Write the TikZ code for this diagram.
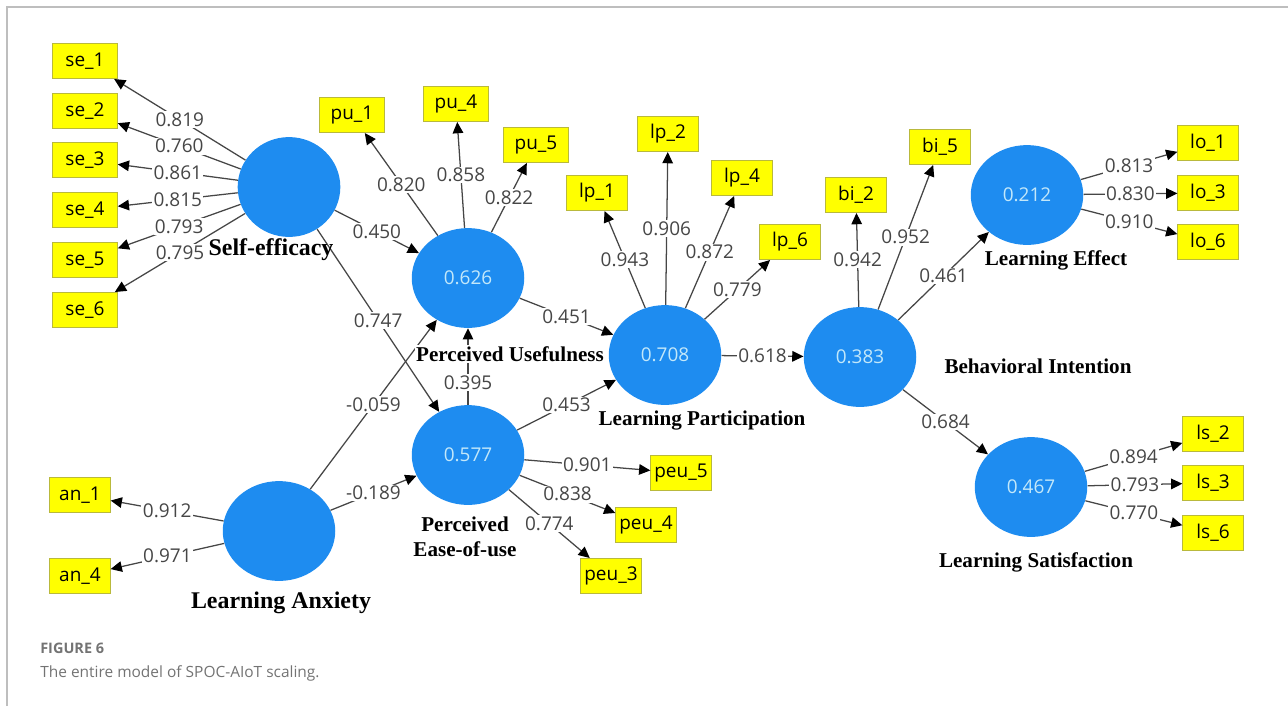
\documentclass[tikz,border=0pt]{standalone}
\usepackage{fontspec}
\setmainfont{Liberation Serif}
\newfontfamily\numfont{Open Sans}
\usepackage{xcolor}
\usetikzlibrary{shapes.geometric,arrows.meta}
\definecolor{lvblue}{RGB}{30,140,240}
\definecolor{lvtext}{RGB}{195,232,250}
\definecolor{indfill}{RGB}{255,255,0}
\definecolor{indedge}{RGB}{185,185,60}
\definecolor{wtgray}{RGB}{70,70,70}
\definecolor{capgray}{RGB}{115,115,115}
\definecolor{framegray}{RGB}{190,190,190}
\newcommand{\numsize}{\numfont\fontsize{13.5}{16}\selectfont}

\begin{document}
\begin{tikzpicture}[x=0.025cm,y=-0.025cm,
  lv/.style={ellipse,fill=lvblue,minimum width=80pt,minimum height=71pt,inner sep=0pt,text=lvtext,font=\numsize},
  ind/.style={draw=indedge,fill=indfill,line width=0.6pt,minimum width=43pt,minimum height=25pt,inner sep=2pt,font=\numsize},
  wt/.style={fill=white,inner sep=1pt,text=wtgray,font=\numsize},
  link/.style={draw=wtgray,line width=0.9pt,-{Triangle[length=8pt,width=7.5pt,color=black]}},
  lvname/.style={font=\bfseries\fontsize{15}{18}\selectfont},
  bigname/.style={font=\bfseries\fontsize{17}{20}\selectfont}]
  \useasboundingbox (0,0) rectangle (1288,706);
  \draw[framegray,line width=0.8pt] (7,706) -- (7,7) -- (1288,7);
  % latent variables
  \node[lv,minimum width=73pt] (SE) at (289,187) {};
  \node[lv] (LA) at (279,531) {};
  \node[lv] (PU) at (468,278) {0.626};
  \node[lv] (PEOU) at (468,455) {0.577};
  \node[lv] (LP) at (665,355) {0.708};
  \node[lv] (BI) at (860,357) {0.383};
  \node[lv] (LE) at (1027,195) {0.212};
  \node[lv] (LS) at (1031,487) {0.467};
  % indicators
  \node[ind,minimum width=46pt] (se1) at (85,61) {se\_1};
  \node[ind,minimum width=46pt] (se2) at (85,111) {se\_2};
  \node[ind,minimum width=46pt] (se3) at (85,160) {se\_3};
  \node[ind,minimum width=46pt] (se4) at (85,210) {se\_4};
  \node[ind,minimum width=46pt] (se5) at (85,260) {se\_5};
  \node[ind,minimum width=46pt] (se6) at (85,310) {se\_6};
  \node[ind,minimum width=46pt] (pu1) at (352,115) {pu\_1};
  \node[ind,minimum width=46pt] (pu4) at (456,104) {pu\_4};
  \node[ind,minimum width=46pt] (pu5) at (536,145) {pu\_5};
  \node[ind] (lp1) at (597,193) {lp\_1};
  \node[ind] (lp2) at (668,134) {lp\_2};
  \node[ind] (lp4) at (742,178) {lp\_4};
  \node[ind] (lp6) at (790,242) {lp\_6};
  \node[ind] (bi2) at (856,195) {bi\_2};
  \node[ind] (bi5) at (940,147) {bi\_5};
  \node[ind] (lo1) at (1208,143) {lo\_1};
  \node[ind] (lo3) at (1208,193) {lo\_3};
  \node[ind] (lo6) at (1208,242) {lo\_6};
  \node[ind] (ls2) at (1213,434) {ls\_2};
  \node[ind] (ls3) at (1213,483) {ls\_3};
  \node[ind] (ls6) at (1213,533) {ls\_6};
  \node[ind,inner sep=1pt] (peu5) at (681,473) {peu\_5};
  \node[ind,inner sep=1pt] (peu4) at (646,525) {peu\_4};
  \node[ind,inner sep=1pt] (peu3) at (611,576) {peu\_3};
  \node[ind] (an1) at (80,495) {an\_1};
  \node[ind] (an4) at (80,576) {an\_4};
  % outer loadings
  \path[link] (SE) edge node[wt] {0.819} (se1);
  \path[link] (SE) edge node[wt] {0.760} (se2);
  \path[link] (SE) edge node[wt] {0.861} (se3);
  \path[link] (SE) edge node[wt] {0.815} (se4);
  \path[link] (SE) edge node[wt] {0.793} (se5);
  \path[link] (SE) edge node[wt] {0.795} (se6);
  \path[link] (PU) edge node[wt] {0.820} (pu1);
  \path[link] (PU) edge node[wt] {0.858} (pu4);
  \path[link] (PU) edge node[wt] {0.822} (pu5);
  \path[link] (LP) edge node[wt] {0.943} (lp1);
  \path[link] (LP) edge node[wt] {0.906} (lp2);
  \path[link] (LP) edge node[wt] {0.872} (lp4);
  \path[link] (LP) edge node[wt] {0.779} (lp6);
  \path[link] (BI) edge node[wt] {0.942} (bi2);
  \path[link] (BI) edge node[wt] {0.952} (bi5);
  \path[link] (LE) edge node[wt] {0.813} (lo1);
  \path[link] (LE) edge node[wt] {0.830} (lo3);
  \path[link] (LE) edge node[wt] {0.910} (lo6);
  \path[link] (LS) edge node[wt] {0.894} (ls2);
  \path[link] (LS) edge node[wt] {0.793} (ls3);
  \path[link] (LS) edge node[wt] {0.770} (ls6);
  \path[link] (PEOU) edge node[wt] {0.901} (peu5);
  \path[link] (PEOU) edge node[wt] {0.838} (peu4);
  \path[link] (PEOU) edge node[wt] {0.774} (peu3);
  \path[link] (LA) edge node[wt] {0.912} (an1);
  \path[link] (LA) edge node[wt] {0.971} (an4);
  % inner paths
  \path[link] (SE) edge node[wt] {0.450} (PU);
  \path[link] (SE) edge node[wt] {0.747} (PEOU);
  \path[link] (LA) edge node[wt] {-0.059} (PU);
  \path[link] (LA) edge node[wt] {-0.189} (PEOU);
  \path[link] (PEOU) edge node[wt,pos=0.29] {0.395} (PU);
  \path[link] (PU) edge node[wt] {0.451} (LP);
  \path[link] (PEOU) edge node[wt] {0.453} (LP);
  \path[link] (LP) edge node[wt] {0.618} (BI);
  \path[link] (BI) edge node[wt] {0.461} (LE);
  \path[link] (BI) edge node[wt] {0.684} (LS);
  % names
  \node[bigname] (SEname) at (271,250) {Self-efficacy};
  \node[lvname,fill=white,inner sep=1pt] (PUname) at (510,354) {Perceived Usefulness};
  \node[lvname,align=center] (PEOUname) at (465,537) {Perceived\\Ease-of-use};
  \node[lvname] (LPname) at (702,420) {Learning Participation};
  \node[lvname] (BIname) at (1038,366) {Behavioral Intention};
  \node[lvname] (LEname) at (1056,260) {Learning Effect};
  \node[lvname] (LSname) at (1036,562) {Learning Satisfaction};
  \node[bigname] (LAname) at (281,603) {Learning Anxiety};
  % caption
  \node[anchor=west,inner sep=0pt,text=capgray,font=\numfont\bfseries\fontsize{10.3}{12}\selectfont] (fig) at (40,648) {FIGURE 6};
  \node[anchor=west,inner sep=0pt,text=capgray,font=\numfont\fontsize{11}{14}\selectfont] (cap) at (40,673) {The entire model of SPOC-AIoT scaling.};
\end{tikzpicture}
\end{document}
